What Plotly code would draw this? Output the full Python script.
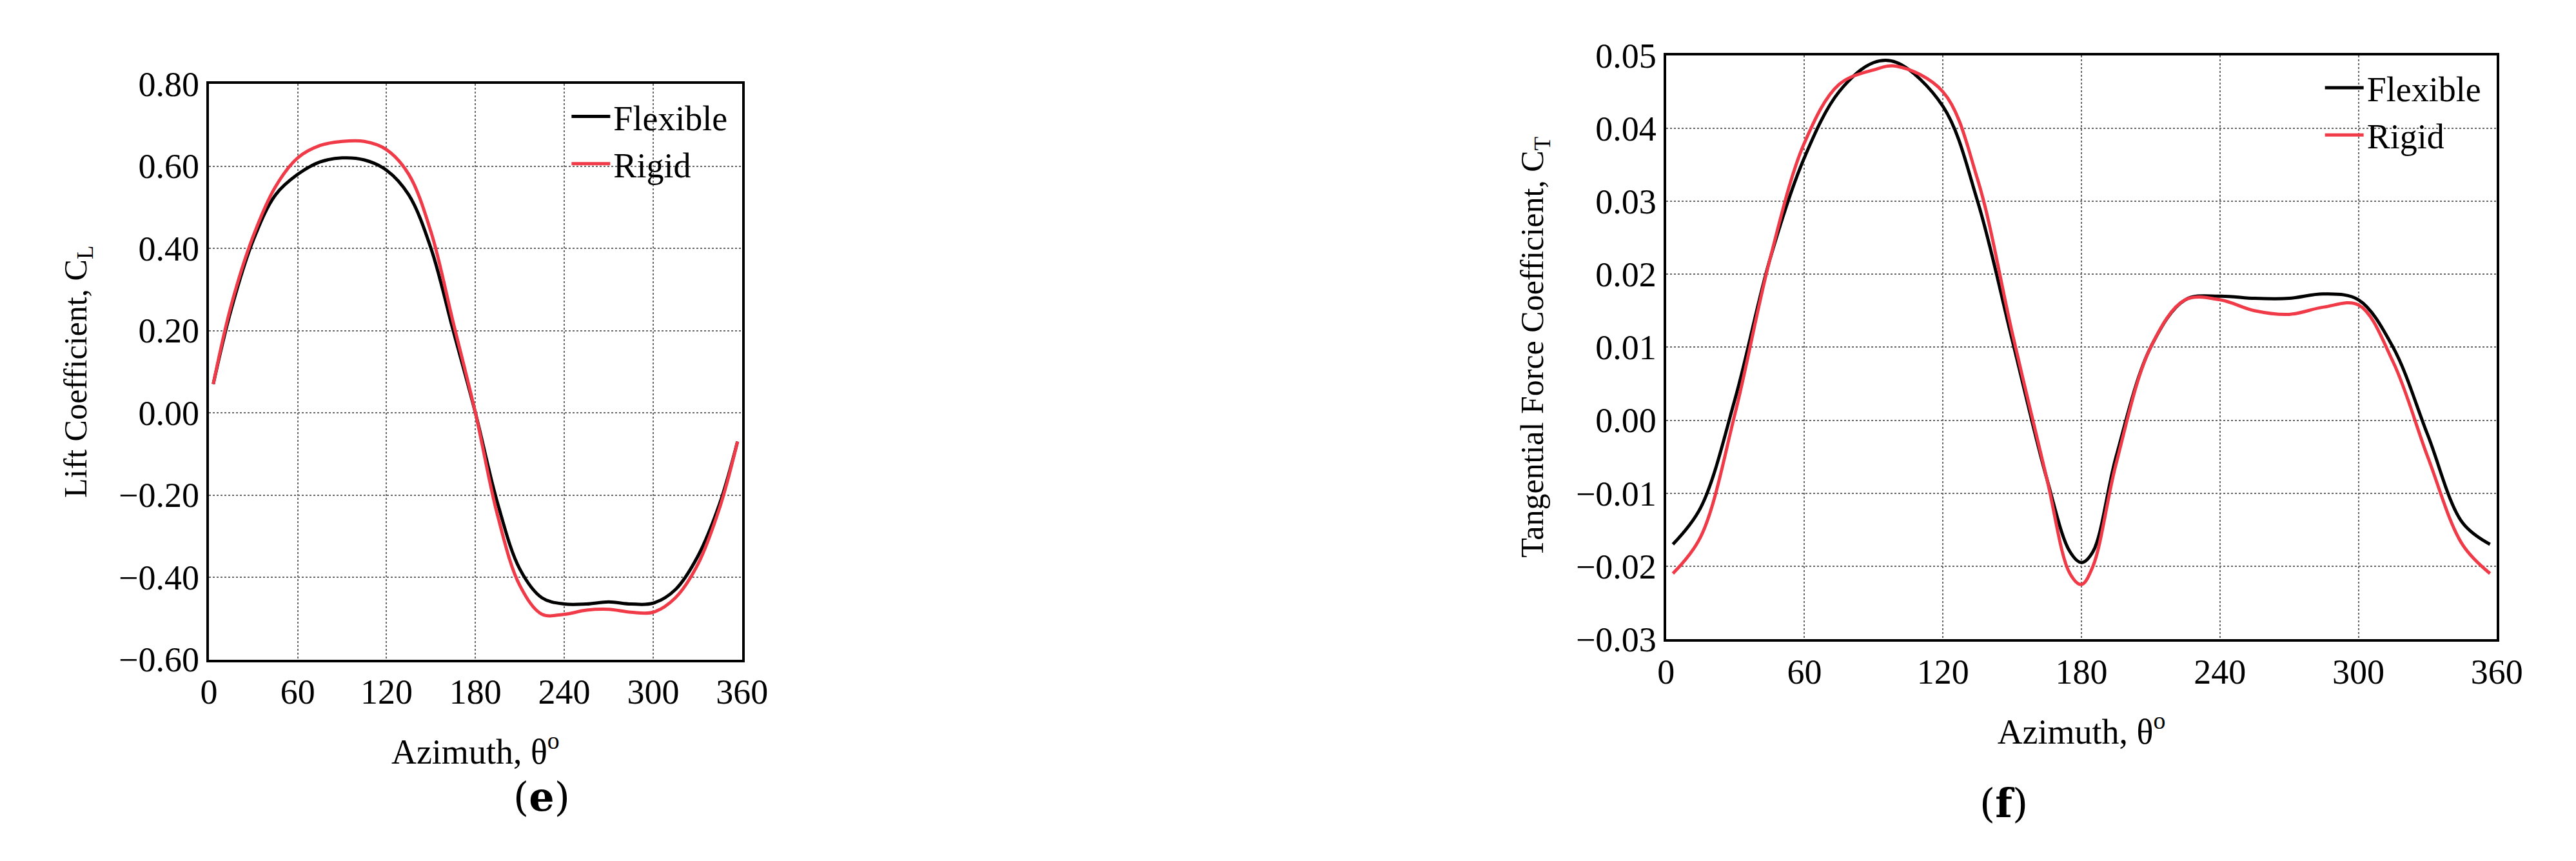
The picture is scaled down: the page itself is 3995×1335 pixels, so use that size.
import plotly.graph_objects as go

theta = [3, 15, 30, 45, 60, 75, 90, 105, 120, 135, 150, 165, 180, 195, 210, 225, 240, 255, 270, 285, 300, 315, 330, 345, 357]
cl_flex = [0.07, 0.25, 0.42, 0.53, 0.58, 0.61, 0.62, 0.615, 0.59, 0.53, 0.40, 0.20, 0.0, -0.22, -0.38, -0.45, -0.465, -0.465, -0.46, -0.465, -0.463, -0.43, -0.35, -0.22, -0.07]
cl_rigid = [0.07, 0.26, 0.43, 0.55, 0.62, 0.65, 0.66, 0.66, 0.64, 0.58, 0.44, 0.22, 0.0, -0.25, -0.42, -0.49, -0.49, -0.48, -0.478, -0.485, -0.485, -0.45, -0.37, -0.23, -0.07]

theta_t = [3, 15, 30, 45, 60, 75, 90, 100, 120, 135, 150, 165, 175, 180, 185, 195, 210, 225, 240, 255, 270, 285, 300, 315, 330, 345, 357]
ct_flex = [-0.017, -0.012, 0.003, 0.022, 0.036, 0.045, 0.049, 0.049, 0.043, 0.030, 0.011, -0.008, -0.018, -0.0195, -0.018, -0.005, 0.010, 0.0165, 0.017, 0.0167, 0.0167, 0.0173, 0.0165, 0.010, -0.002, -0.014, -0.017]
ct_rigid = [-0.021, -0.016, 0.001, 0.022, 0.038, 0.046, 0.048, 0.0485, 0.045, 0.033, 0.012, -0.008, -0.021, -0.0225, -0.020, -0.006, 0.010, 0.0165, 0.0165, 0.015, 0.0145, 0.0155, 0.0158, 0.008, -0.005, -0.017, -0.021]

x_ticks = [0, 60, 120, 180, 240, 300, 360]
BLACK = "#000000"
RED = "#f03a47"
FONT = "Liberation Serif"

fig = go.Figure()
fig.add_trace(go.Scatter(x=theta, y=cl_flex, name="Flexible", mode="lines", line=dict(color=BLACK, width=5, shape="spline"), xaxis="x", yaxis="y", legend="legend"))
fig.add_trace(go.Scatter(x=theta, y=cl_rigid, name="Rigid", mode="lines", line=dict(color=RED, width=5, shape="spline"), xaxis="x", yaxis="y", legend="legend"))
fig.add_trace(go.Scatter(x=theta_t, y=ct_flex, name="Flexible", mode="lines", line=dict(color=BLACK, width=5, shape="spline"), xaxis="x2", yaxis="y2", legend="legend2"))
fig.add_trace(go.Scatter(x=theta_t, y=ct_rigid, name="Rigid", mode="lines", line=dict(color=RED, width=5, shape="spline"), xaxis="x2", yaxis="y2", legend="legend2"))

ax = dict(showline=True, linecolor=BLACK, linewidth=4, mirror=True, showgrid=True,
          gridcolor="#666666", griddash="dot", gridwidth=2, zeroline=False,
          tickfont=dict(size=54, family=FONT, color=BLACK), ticks="")
xt = dict(range=[0, 360], tickvals=x_ticks, title=dict(text="Azimuth, θ<sup>o</sup>", font=dict(size=54, family=FONT, color=BLACK), standoff=45))

fig.update_layout(
    width=3995, height=1335, margin=dict(l=0, r=0, t=0, b=0),
    paper_bgcolor="white", plot_bgcolor="white",
    font=dict(family=FONT, color=BLACK),
    xaxis=dict(domain=[0.0766, 0.2864], anchor="y", **xt, **ax),
    yaxis=dict(domain=[0.227, 0.927], anchor="x", range=[-0.6, 0.8], dtick=0.2, tickformat=".2f",
               title=dict(text="Lift Coefficient, C<sub>L</sub>", font=dict(size=50, family=FONT, color=BLACK), standoff=35), **ax),
    xaxis2=dict(domain=[0.650, 0.977], anchor="y2", **xt, **ax),
    yaxis2=dict(domain=[0.2517, 0.9618], anchor="x2", range=[-0.03, 0.05], dtick=0.01, tickformat=".2f",
                title=dict(text="Tangential Force Coefficient, C<sub>T</sub>", font=dict(size=50, family=FONT, color=BLACK), standoff=35), **ax),
    legend=dict(x=0.282, y=0.92, xanchor="right", yanchor="top", font=dict(size=54, family=FONT), bgcolor="rgba(255,255,255,0)", itemwidth=60),
    legend2=dict(x=0.972, y=0.955, xanchor="right", yanchor="top", font=dict(size=54, family=FONT), bgcolor="rgba(255,255,255,0)", itemwidth=60),
    annotations=[
        dict(text="(<b>e</b>)", x=0.196, y=0.06, xref="paper", yref="paper", yanchor="middle", showarrow=False, font=dict(size=62, family="DejaVu Serif")),
        dict(text="(<b>f</b>)", x=0.793, y=0.052, xref="paper", yref="paper", yanchor="middle", showarrow=False, font=dict(size=62, family="DejaVu Serif")),
    ],
)
fig.write_html("out.html")
